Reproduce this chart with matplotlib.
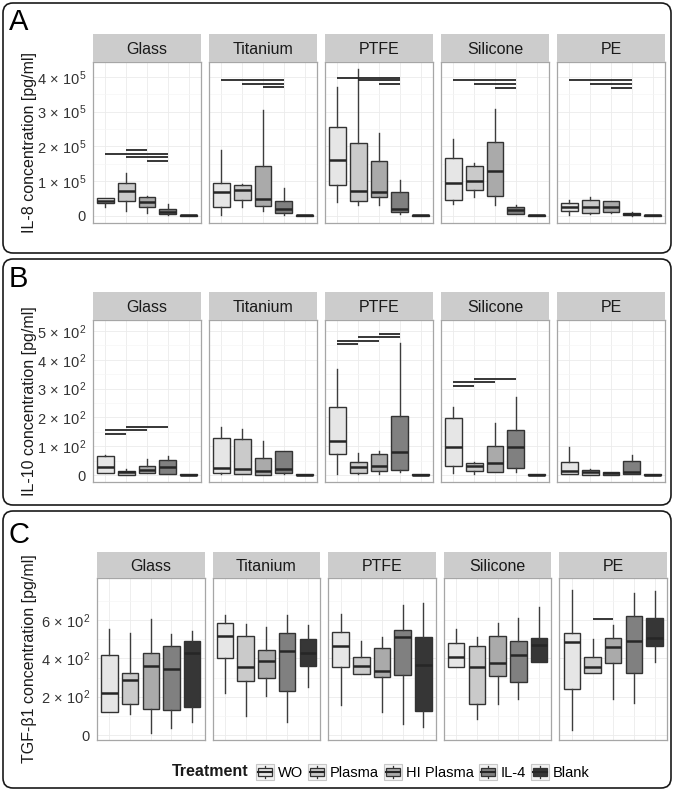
import numpy as np
import matplotlib

matplotlib.use("Agg")
import matplotlib.pyplot as plt
from matplotlib.patches import FancyBboxPatch, Rectangle
from matplotlib.lines import Line2D
from matplotlib.legend_handler import HandlerBase
from matplotlib.transforms import IdentityTransform

plt.rcParams["font.family"] = ["Liberation Sans", "DejaVu Sans"]
plt.rcParams["mathtext.fontset"] = "custom"
plt.rcParams["mathtext.rm"] = "Liberation Sans"
plt.rcParams["mathtext.it"] = "Liberation Sans:italic"
plt.rcParams["mathtext.bf"] = "Liberation Sans:bold"

# -------- data (box stats: whislo, q1, med, q3, whishi) --------
materials = ["Glass", "Titanium", "PTFE", "Silicone", "PE"]
treatments = ["WO", "Plasma", "HI Plasma", "IL-4", "Blank"]

# IL-8 in units of 1e5 pg/ml
il8_e5 = {
    "Glass": [(0.25, 0.36, 0.43, 0.50, 0.52), (0.14, 0.41, 0.71, 0.95, 1.22),
              (0.08, 0.25, 0.38, 0.55, 0.57), (0.03, 0.05, 0.12, 0.19, 0.33),
              (0.00, 0.003, 0.008, 0.013, 0.02)],
    "Titanium": [(0.03, 0.25, 0.68, 0.93, 1.89), (0.25, 0.44, 0.74, 0.89, 0.92),
                 (0.14, 0.27, 0.49, 1.43, 3.06), (0.03, 0.08, 0.19, 0.43, 0.79),
                 (0.00, 0.003, 0.008, 0.013, 0.02)],
    "PTFE": [(0.39, 0.87, 1.60, 2.55, 3.71), (0.30, 0.41, 0.71, 2.10, 4.22),
             (0.30, 0.54, 0.67, 1.57, 2.39), (0.06, 0.10, 0.20, 0.68, 1.03),
             (0.00, 0.003, 0.008, 0.013, 0.02)],
    "Silicone": [(0.34, 0.44, 0.94, 1.65, 2.22), (0.55, 0.75, 1.00, 1.44, 1.52),
                 (0.30, 0.56, 1.28, 2.12, 3.08), (0.05, 0.06, 0.15, 0.24, 0.31),
                 (0.00, 0.003, 0.008, 0.013, 0.02)],
    "PE": [(0.02, 0.13, 0.26, 0.37, 0.46), (0.04, 0.07, 0.26, 0.45, 0.54),
           (0.08, 0.12, 0.26, 0.41, 0.41), (0.00, 0.01, 0.05, 0.08, 0.11),
           (0.00, 0.003, 0.008, 0.013, 0.02)],
}

il10 = {
    "Glass": [(8, 8, 29, 66, 69), (2, 2, 9, 15, 20), (6, 8, 17, 32, 56),
              (3, 3, 29, 54, 66), (1, 1.5, 2, 2.5, 3)],
    "Titanium": [(3, 8, 23, 127, 168), (5, 5, 22, 125, 160), (2, 2, 14, 60, 118),
                 (3, 6, 22, 83, 85), (1, 1.5, 2, 2.5, 3)],
    "PTFE": [(3, 72, 119, 237, 367), (3, 6, 27, 46, 75), (3, 15, 31, 72, 83),
             (9, 17, 81, 205, 459), (1, 1.5, 2, 2.5, 3)],
    "Silicone": [(8, 32, 98, 199, 237), (3, 15, 31, 43, 47), (10, 12, 41, 102, 179),
                 (9, 25, 98, 157, 270), (1, 1.5, 2, 2.5, 3)],
    "PE": [(3, 3, 14, 46, 96), (2, 2, 9, 17, 21), (2, 2, 6, 12, 12),
           (3, 3, 12, 50, 69), (1, 1.5, 2, 2.5, 3)],
}

tgfb1 = {
    "Glass": [(118, 120, 217, 417, 553), (110, 162, 287, 325, 530),
              (12, 134, 360, 426, 605), (38, 129, 344, 466, 525),
              (66, 148, 430, 490, 543)],
    "Titanium": [(217, 403, 518, 583, 626), (99, 282, 353, 517, 577),
                 (203, 296, 386, 443, 562), (66, 231, 438, 534, 626),
                 (249, 362, 426, 499, 574)],
    "PTFE": [(157, 357, 466, 539, 631), (317, 317, 360, 409, 490),
             (122, 304, 334, 452, 510), (59, 315, 513, 548, 677),
             (43, 127, 365, 513, 690)],
    "Silicone": [(353, 353, 407, 478, 553), (82, 160, 353, 464, 513),
                 (160, 308, 377, 517, 583), (188, 278, 417, 490, 612),
                 (379, 379, 468, 508, 666)],
    "PE": [(26, 240, 485, 534, 757), (323, 323, 353, 405, 501),
           (188, 374, 457, 508, 574), (165, 325, 490, 623, 739),
           (379, 466, 508, 612, 751)],
}

# significance bars: material -> list of (from group, to group, height)
il8_sig_e5 = {
    "Glass": [(2, 3, 1.89), (1, 4, 1.79), (2, 4, 1.69), (3, 4, 1.58)],
    "Titanium": [(1, 4, 3.90), (2, 4, 3.81), (3, 4, 3.70)],
    "PTFE": [(1, 4, 3.98), (2, 4, 3.91), (3, 4, 3.79)],
    "Silicone": [(1, 4, 3.90), (2, 4, 3.79), (3, 4, 3.69)],
    "PE": [(1, 4, 3.90), (2, 4, 3.79), (3, 4, 3.69)],
}
il10_sig = {
    "Glass": [(1, 2, 142), (1, 3, 155), (2, 4, 167)],
    "PTFE": [(1, 2, 454), (1, 3, 466), (2, 4, 478), (3, 4, 491)],
    "Silicone": [(1, 2, 310), (1, 3, 323), (2, 4, 334)],
}
tgfb1_sig = {
    "PE": [(2, 3, 603)],
}

fills = ["#E6E6E6", "#CACACA", "#AAAAAA", "#808080", "#363636"]
EDGE = "#333333"

W, H = 675, 791
fig = plt.figure(figsize=(W / 100, H / 100), dpi=100)


def fx(px):
    return px / W


def fy(py):
    return 1 - py / H


def scaled(d, k):
    return {m: [tuple(np.array(t) * k) for t in v] for m, v in d.items()}


def scaled_sig(d, k):
    return {m: [(a, b, h * k) for a, b, h in v] for m, v in d.items()}


def sci(i, e):
    return r"$%d\,\times\,10^{%d}$" % (i, e)


panels = [
    dict(letter="A", frame=(3, 3, 671, 253), letter_y=8,
         stats=scaled(il8_e5, 1e5), sig=scaled_sig(il8_sig_e5, 1e5),
         ylim=(-0.211e5, 4.43e5),
         ticks=[0, 1e5, 2e5, 3e5, 4e5], minor=[0.5e5, 1.5e5, 2.5e5, 3.5e5],
         labels=["0"] + [sci(i, 5) for i in range(1, 5)],
         ylabel="IL-8 concentration [pg/ml]",
         strip=(34, 62), plot=(62, 223), left=93, fw=108),
    dict(letter="B", frame=(3, 259, 671, 505), letter_y=265,
         stats=il10, sig=il10_sig, ylim=(-24, 538),
         ticks=[0, 100, 200, 300, 400, 500], minor=[50, 150, 250, 350, 450],
         labels=["0"] + [sci(i, 2) for i in range(1, 6)],
         ylabel="IL-10 concentration [pg/ml]",
         strip=(292, 320), plot=(320, 482), left=93, fw=108),
    dict(letter="C", frame=(3, 511, 671, 788), letter_y=521,
         stats=tgfb1, sig=tgfb1_sig, ylim=(-26, 819),
         ticks=[0, 200, 400, 600], minor=[100, 300, 500, 700],
         labels=["0"] + [sci(i, 2) for i in (2, 4, 6)],
         ylabel="TGF-\u03b21 concentration [pg/ml]",
         strip=(552, 578), plot=(578, 740), left=97, fw=107.6),
]

for p in panels:
    x0, y0, x1, y1 = p["frame"]
    fig.add_artist(FancyBboxPatch((x0, H - y1), x1 - x0, y1 - y0,
                                  boxstyle="round,pad=0,rounding_size=10",
                                  transform=IdentityTransform(),
                                  facecolor="none", edgecolor="#1a1a1a", lw=1.2))
    fig.text(fx(9), fy(p["letter_y"]), p["letter"], fontsize=21, va="top", ha="left")
    ptop, pbot = p["plot"]
    stop, sbot = p["strip"]
    fig.text(fx(30), fy((ptop + pbot) / 2), p["ylabel"], rotation=90,
             ha="center", va="center", fontsize=11.5, color="#1a1a1a")

    for i, mat in enumerate(materials):
        left = p["left"] + i * (p["fw"] + 8)
        ax = fig.add_axes([fx(left), fy(pbot), p["fw"] / W, (pbot - ptop) / H])
        stats = [dict(whislo=s[0], q1=s[1], med=s[2], q3=s[3], whishi=s[4], label=t)
                 for s, t in zip(p["stats"][mat], treatments)]
        bp = ax.bxp(stats, positions=range(1, 6), widths=0.8, patch_artist=True,
                    showfliers=False, showcaps=False, manage_ticks=False,
                    boxprops=dict(edgecolor=EDGE, linewidth=1.0),
                    medianprops=dict(color="#262626", linewidth=1.8),
                    whiskerprops=dict(color="#3d3d3d", linewidth=1.0))
        for box, c in zip(bp["boxes"], fills):
            box.set_facecolor(c)
        for a, b, h in p["sig"].get(mat, []):
            ax.hlines(h, a, b, color="#262626", lw=1.3)

        ax.set_xlim(0.4, 5.6)
        ax.set_ylim(*p["ylim"])
        ax.set_xticks(range(1, 6))
        ax.set_xticklabels([])
        ax.set_yticks(p["ticks"])
        ax.set_yticks(p["minor"], minor=True)
        if i == 0:
            ax.set_yticklabels(p["labels"], fontsize=10.5, color="#333333")
        else:
            ax.set_yticklabels([])
        ax.tick_params(which="both", length=0, pad=5)
        ax.grid(which="major", color="#EBEBEB", lw=0.6)
        ax.grid(which="minor", axis="y", color="#F5F5F5", lw=0.5)
        ax.set_axisbelow(True)
        for s in ax.spines.values():
            s.set_color("#A6A6A6")
            s.set_linewidth(0.9)

        sax = fig.add_axes([fx(left), fy(sbot), p["fw"] / W, (sbot - stop) / H])
        sax.set_facecolor("#CCCCCC")
        sax.set_xticks([])
        sax.set_yticks([])
        for s in sax.spines.values():
            s.set_visible(False)
        sax.text(0.5, 0.45, mat, ha="center", va="center", fontsize=11.5,
                 color="#1a1a1a", transform=sax.transAxes)


class BoxKey(HandlerBase):
    def create_artists(self, legend, orig_handle, xdescent, ydescent, width,
                       height, fontsize, trans):
        x0, y0 = -xdescent, -ydescent
        bg = Rectangle((x0, y0), width, height, facecolor="#F2F2F2",
                       edgecolor="#C8C8C8", lw=0.8, transform=trans)
        cx = x0 + width / 2
        wl = Line2D([cx, cx], [y0 + height * 0.1, y0 + height * 0.9],
                    color=EDGE, lw=0.9, transform=trans)
        bx = Rectangle((x0 + width * 0.12, y0 + height * 0.25), width * 0.76,
                       height * 0.5, facecolor=orig_handle.get_facecolor(),
                       edgecolor=EDGE, lw=0.9, transform=trans)
        md = Line2D([x0 + width * 0.12, x0 + width * 0.88], [y0 + height / 2] * 2,
                    color="#262626", lw=1.5, transform=trans)
        return [bg, wl, bx, md]


handles = [Rectangle((0, 0), 1, 1, facecolor=c) for c in fills]
fig.legend(handles, treatments, handler_map={Rectangle: BoxKey()},
           loc="center left", bbox_to_anchor=(fx(256), fy(772)), ncol=5,
           frameon=False, handlelength=1.25, handleheight=1.25,
           handletextpad=0.25, columnspacing=0.35, fontsize=10.5,
           borderpad=0, borderaxespad=0)
fig.text(fx(172), fy(772), "Treatment", fontsize=11.5, fontweight="bold",
         ha="left", va="center", color="#1a1a1a")

fig.savefig("out.png", dpi=100)
